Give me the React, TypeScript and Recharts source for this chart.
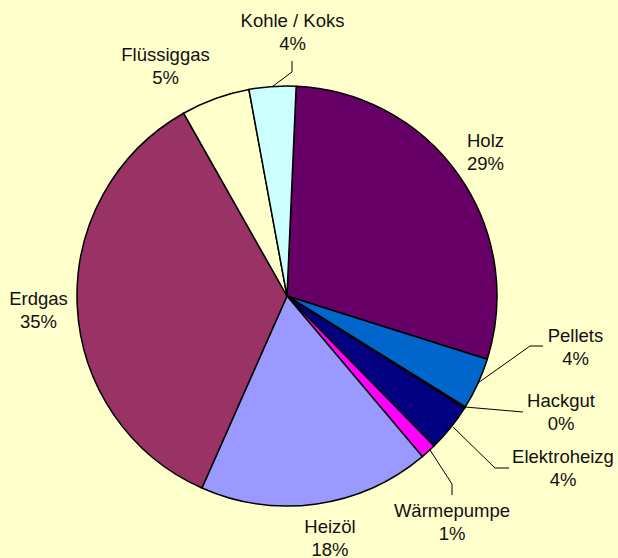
import React from "react";
import { PieChart, Pie, Cell } from "recharts";

const categories = [
  "Holz",
  "Pellets",
  "Hackgut",
  "Elektroheizg",
  "Wärmepumpe",
  "Heizöl",
  "Erdgas",
  "Flüssiggas",
  "Kohle / Koks",
];
const shares = [29.2, 4.0, 0.1, 3.7, 1.2, 17.8, 35.2, 5.3, 3.6];
const colors = [
  "#660066",
  "#0066CC",
  "#FF8080",
  "#000080",
  "#FF00FF",
  "#9999FF",
  "#993366",
  "#FFFFCC",
  "#CCFFFF",
];

// label layout: text centre x offset and first baseline offset from the pie centre
const labelOffsets: [number, number][] = [
  [198.5, -149],
  [288.5, 46],
  [274, 111],
  [276, 167],
  [165, 221],
  [43, 237],
  [-248.5, 9],
  [-121.5, -235],
  [5.5, -269],
];
// leader line points, offsets from pie centre
const leaders: ([number, number][] | null)[] = [
  null,
  [[191, 87], [243, 50], [256, 50]],
  [[178, 111], [236, 116]],
  [[166, 131], [208, 172], [222, 172]],
  [[143, 154], [165, 188], [165, 199]],
  null,
  null,
  null,
  [[-14, -210], [5, -224], [5, -235]],
];

const data = categories.map((name, i) => ({ name, value: shares[i] }));

const FONT = "'Liberation Sans', Arial, sans-serif";

const renderLabel = (props: any) => {
  const { cx, cy, index, percent } = props;
  const [dx, dy] = labelOffsets[index];
  const x = cx + dx;
  const y = cy + dy;
  const pts = leaders[index];
  return (
    <g key={`lbl-${index}`}>
      {pts && (
        <polyline
          points={pts.map(([px, py]) => `${cx + px},${cy + py}`).join(" ")}
          fill="none"
          stroke="#000"
          strokeWidth={1}
        />
      )}
      <text
        x={x}
        y={y}
        textAnchor="middle"
        fontFamily={FONT}
        fontSize={18.5}
        fill="#111"
      >
        {categories[index]}
      </text>
      <text
        x={x}
        y={y + 23}
        textAnchor="middle"
        fontFamily={FONT}
        fontSize={18.5}
        fill="#111"
      >
        {`${Math.round(percent * 100)}%`}
      </text>
    </g>
  );
};

export default function App() {
  return (
    <div
      style={{
        position: "fixed",
        left: 0,
        top: 0,
        width: 618,
        height: 558,
        background: "#FFFFCC",
      }}
    >
      <PieChart width={618} height={558} margin={{ top: 0, right: 0, bottom: 0, left: 0 }}>
        <Pie
          data={data}
          dataKey="value"
          nameKey="name"
          cx={287}
          cy={296}
          innerRadius={0}
          outerRadius={210}
          startAngle={87.5}
          endAngle={-272.5}
          stroke="#000"
          strokeWidth={1.5}
          label={renderLabel}
          labelLine={false}
          isAnimationActive={false}
        >
          {data.map((d, i) => (
            <Cell key={d.name} fill={colors[i]} />
          ))}
        </Pie>
      </PieChart>
    </div>
  );
}
